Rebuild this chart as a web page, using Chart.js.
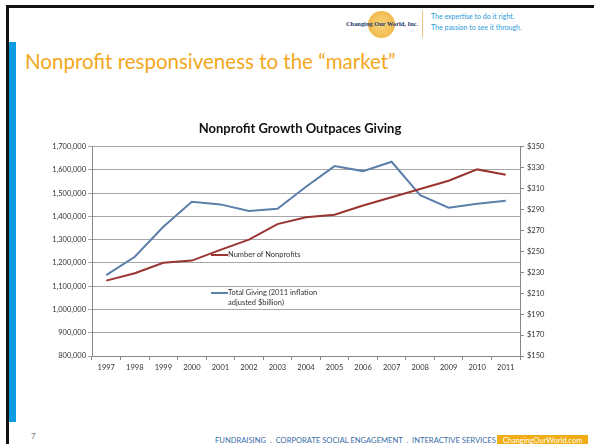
<!DOCTYPE html>
<html lang="en">
<head>
    <meta charset="UTF-8">
    <title>Nonprofit responsiveness to the market</title>
    <script src="https://cdn.jsdelivr.net/npm/chart.js"></script>
    <style>
        html, body { margin: 0; padding: 0; }
        body { width: 594px; height: 444px; position: relative; overflow: hidden; background: #fff; font-family: Lato, "Open Sans", sans-serif; }
        .abs { position: absolute; }
        #frameTop { left: 6px; top: 5px; width: 588px; height: 3px; background: #111; }
        #frameLeft { left: 6px; top: 5px; width: 3px; height: 439px; background: #111; }
        #blueBar { left: 9px; top: 42px; width: 7px; height: 380px; background: #0a9be0; }
        #logo { left: 346px; top: 11px; width: 70px; height: 27px; }
        #globe { left: 22px; top: 0; width: 27px; height: 27px; border-radius: 50%;
                 background: radial-gradient(circle, #f7c95a 0%, #eeaa22 70%, #e59a10 100%); opacity: .8; }
        #logoText { left: 0; top: 9px; width: 70px; text-align: center; font: bold 6.4px "Liberation Sans Narrow", "Liberation Serif", serif; color: #233a6e; white-space: nowrap; }
        #sep { left: 422px; top: 10px; width: 1px; height: 28px; background: #f3c58a; }
        #tag { left: 431px; top: 11px; font-size: 7px; line-height: 11px; color: #2a9ad8; white-space: nowrap; }
        #titulo { left: 25px; top: 49px; font-size: 20.5px; color: #f2a81d; white-space: nowrap; }
        #grafico { left: 40px; top: 118px; }
        .leg { font-size: 7.5px; color: #333; white-space: nowrap; line-height: 10px; }
        .legLine { height: 2px; width: 17px; }
        #pagina { left: 31px; top: 431px; font-size: 8px; color: #777; }
        #rodape { left: 215px; top: 435px; font-size: 7.6px; color: #3b6ea6; white-space: nowrap; }
        #site { left: 497px; top: 435px; width: 91px; height: 12px; background: #f0ac12; color: #fff; font-size: 7.5px; text-align: center; line-height: 12px; }
    </style>
</head>
<body>

<!-- moldura do slide -->
<div class="abs" id="frameTop"></div>
<div class="abs" id="frameLeft"></div>
<div class="abs" id="blueBar"></div>

<!-- logo e slogan -->
<div class="abs" id="logo">
    <div class="abs" id="globe"></div>
    <div class="abs" id="logoText">Changing Our World, Inc.</div>
</div>
<div class="abs" id="sep"></div>
<div class="abs" id="tag">The expertise to do it right.<br>The passion to see it through.</div>

<div class="abs" id="titulo">Nonprofit responsiveness to the &ldquo;market&rdquo;</div>

<canvas class="abs" id="grafico" width="520" height="262"></canvas>

<!-- legenda dentro do grafico -->
<div class="abs legLine" style="left:211px; top:254px; background:#993431;"></div>
<div class="abs leg" style="left:228px; top:250px;">Number of Nonprofits</div>
<div class="abs legLine" style="left:211px; top:292px; background:#5b7fa9;"></div>
<div class="abs leg" style="left:228px; top:288px;">Total Giving (2011 inflation<br>adjusted $billion)</div>

<div class="abs" id="pagina">7</div>
<div class="abs" id="rodape">FUNDRAISING &nbsp;.&nbsp; CORPORATE SOCIAL ENGAGEMENT &nbsp;.&nbsp; INTERACTIVE SERVICES</div>
<div class="abs" id="site">ChangingOurWorld.com</div>

<script>
    // dados
    const anos = ['1997', '1998', '1999', '2000', '2001', '2002', '2003', '2004',
                  '2005', '2006', '2007', '2008', '2009', '2010', '2011'];
    const numeroOngs = [1124000, 1156000, 1201000, 1210000, 1256000, 1300000, 1367000, 1396000,
                        1407000, 1447000, 1482000, 1518000, 1553000, 1602000, 1579000];
    const doacoes = [227.3, 244.8, 273.4, 297.3, 294.8, 288.4, 290.6, 311.6,
                     331.4, 326.6, 335.5, 303.7, 291.6, 295.4, 298.3];

    const tickFont = { family: 'Lato', size: 7.5 };
    const cinzaEixo = '#868686';

    const ctx = document.getElementById('grafico').getContext('2d');
    const grafico = new Chart(ctx, {
        type: 'line',
        data: {
            labels: anos,
            datasets: [{
                label: 'Number of Nonprofits',
                data: numeroOngs,
                yAxisID: 'y',
                borderColor: '#993431',
                backgroundColor: '#993431',
                borderWidth: 2,
                pointRadius: 0,
                tension: 0
            }, {
                label: 'Total Giving (2011 inflation adjusted $billion)',
                data: doacoes,
                yAxisID: 'y1',
                borderColor: '#5b7fa9',
                backgroundColor: '#5b7fa9',
                borderWidth: 2,
                pointRadius: 0,
                tension: 0
            }]
        },
        options: {
            responsive: false,
            animation: false,
            plugins: {
                legend: { display: false },
                tooltip: { enabled: false },
                title: {
                    display: true,
                    text: 'Nonprofit Growth Outpaces Giving',
                    color: '#111',
                    font: { family: 'Lato', size: 13, weight: 'bold' },
                    padding: { top: 3, bottom: 10 }
                }
            },
            scales: {
                x: {
                    offset: true,
                    grid: { offset: true, drawOnChartArea: false, tickLength: 4, color: cinzaEixo },
                    border: { color: cinzaEixo },
                    ticks: { font: tickFont, color: '#333', padding: 3, maxRotation: 0, autoSkip: false },
                    afterFit: function (s) { s.height = 24; }
                },
                y: {
                    position: 'left',
                    min: 800000,
                    max: 1700000,
                    grid: { color: '#a6a6a6', tickLength: 4 },
                    border: { color: cinzaEixo },
                    ticks: {
                        stepSize: 100000,
                        font: tickFont,
                        color: '#333',
                        padding: 2,
                        callback: v => v.toLocaleString('en-US')
                    },
                    afterFit: function (s) { s.width = 52; }
                },
                y1: {
                    position: 'right',
                    min: 150,
                    max: 350,
                    grid: { drawOnChartArea: false, tickLength: 4, color: cinzaEixo },
                    border: { color: cinzaEixo },
                    ticks: {
                        stepSize: 20,
                        font: tickFont,
                        color: '#333',
                        padding: 3,
                        callback: v => '$' + v
                    },
                    afterFit: function (s) { s.width = 40; }
                }
            }
        }
    });
</script>
</body>
</html>
